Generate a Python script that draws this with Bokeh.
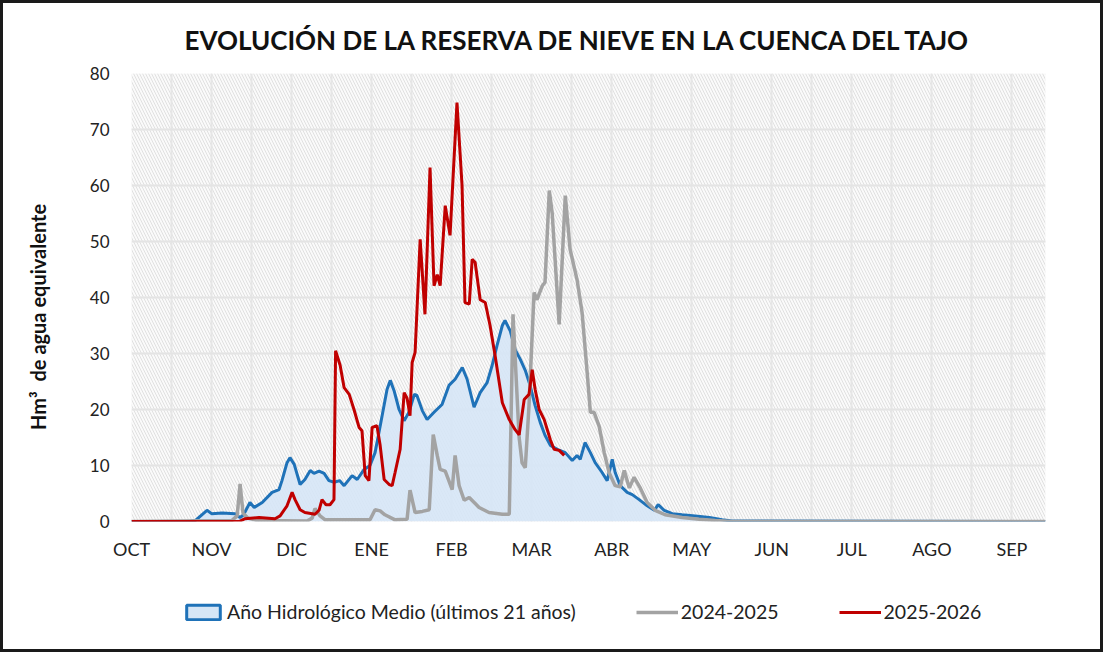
from bokeh.plotting import figure
from bokeh.layouts import column
from bokeh.models import FixedTicker, BoxAnnotation, Legend, LegendItem, ColumnDataSource
from bokeh.embed import file_html
from bokeh.resources import INLINE

# ---------------- data (x = days since 1 October) ----------------
months = ["OCT", "NOV", "DIC", "ENE", "FEB", "MAR", "ABR", "MAY", "JUN", "JUL", "AGO", "SEP"]
month_start = [0, 30, 60, 90, 120, 150, 180, 210, 240, 270, 300, 330]

medio_day = [0, 22, 24, 28.3, 30, 34, 38.8, 40.7, 42, 44.4, 46, 49, 52.7, 55.3, 56.4, 58.3, 59.4,
             61, 63.2, 65, 67, 68.4, 70.3, 72.2, 74, 76, 78, 79.7, 82.7, 84.6, 87.2, 89.4, 91.3,
             93.2, 95.8, 97, 98.4, 100.3, 102.2, 104, 106, 107, 109, 110.8, 113.4, 116.4, 119,
             121.3, 124, 125.8, 128.4, 130.7, 133.3, 135.2, 137, 139, 140, 142, 143.8, 145.7,
             147.6, 149.4, 151.3, 153.2, 155, 157, 159.6, 162.6, 165.2, 167, 168.2, 170, 172,
             173.8, 176.4, 178.3, 180.2, 181.3, 183.2, 185.8, 187.7, 190.3, 193.3, 196, 197.4,
             199.7, 202.7, 206.4, 211.3, 216.6, 221.4, 225, 342.6]
medio_val = [0, 0, 0.2, 2.0, 1.4, 1.5, 1.4, 0.7, 1.2, 3.4, 2.5, 3.4, 5.2, 5.7, 7.3, 10.5, 11.4,
             10.2, 6.6, 7.5, 9.1, 8.6, 9.0, 8.6, 7.3, 7.0, 7.3, 6.4, 8.2, 7.5, 9.3, 10, 12.3,
             17, 23.6, 25.2, 23.4, 20, 18, 19.5, 22.7, 22.5, 19.8, 18.2, 19.5, 20.9, 24.3,
             25.4, 27.5, 25.4, 20.4, 23, 24.8, 27.9, 31.4, 35, 35.9, 34, 30.7, 29,
             27, 24.3, 20.7, 17.7, 15.4, 13.6, 12.9, 12.3, 10.9, 11.8, 11.1, 14.1, 12.3,
             10.5, 8.75, 7.3, 11.1, 8.75, 6.4, 5.2, 4.8, 3.9, 2.8, 2.0, 3.0,
             2.0, 1.4, 1.2, 1.0, 0.7, 0.3, 0.1, 0]

y2425_day = [0, 37.7, 39.6, 40.7, 41.8, 43.7, 47, 65.8, 67.7, 68.8, 70.7, 72.6, 89.4, 91.3, 93.2,
             95, 98.8, 103.3, 104.4, 106.3, 109, 111.6, 113.1, 114.6, 115.7, 117.6, 120.2, 121.3,
             122.8, 124.7, 126.6, 130.3, 134, 139, 141.6, 143, 145.3, 146.4, 147.6, 149, 150.9,
             152, 154, 155, 156.6, 157.7, 160.3, 162.6, 164.4, 167, 168.9, 170.8, 172, 173.4,
             175.3, 177.2, 179, 181.3, 183.2, 184.7, 186.6, 188.4, 190.7, 193.3, 196.3, 200,
             206.4, 212.8, 218.8, 225, 342.6]
y2425_val = [0, 0.2, 1.0, 6.7, 1.5, 0.6, 0.2, 0.1, 0.6, 2.3, 1.0, 0.3, 0.3, 2.1, 1.9,
             1.2, 0.3, 0.4, 5.6, 1.6, 1.8, 2.1, 15.5, 11.8, 9.3, 9.0, 5.7, 11.8,
             6.4, 3.8, 4.3, 2.5, 1.6, 1.3, 1.3, 37, 15, 10.5, 9.6, 20.7, 40.9,
             39.6, 42.1, 42.7, 59.1, 55, 35.2, 58.2, 48.6, 43.2, 37.3, 26.6, 19.5, 19.5,
             17, 12.3, 8.75, 6.4, 6.2, 9.1, 6.0, 7.9, 6.0, 3.4, 2.0, 1.2,
             0.7, 0.4, 0.2, 0.0, 0]

y2526_day = [0, 40.3, 42.6, 47.8, 53.8, 55.7, 58.3, 60.2, 61.3, 63.2, 65, 68.8, 70.3, 71.4, 72.9,
             74.4, 75.9, 76.5, 78.2, 79.7, 81.6, 83.4, 85.3, 86.4, 87.6, 89, 90.2, 92, 93.2,
             94.7, 96.6, 97.7, 98.8, 100.7, 102.2, 103.3, 104.4, 105.2, 106.3, 108.2, 110,
             111.9, 113.4, 114.6, 115.7, 117.6, 119.4, 122, 123.9, 125, 126.6, 127.7, 128.8,
             130.7, 132.6, 134.4, 136.3, 139, 141.6, 143.8, 145.3, 147.2, 149, 150.2, 151.3,
             152.8, 154.7, 157, 158.4, 160.3, 162.2]
y2526_val = [0, 0, 0.5, 0.7, 0.5, 1.0, 2.8, 5.2, 3.9, 2.1, 1.6, 1.3, 2.0, 3.9, 3.0,
             3.0, 3.9, 30.5, 27.9, 23.9, 22.7, 20, 16.8, 16.2, 8.2, 7.3, 16.8, 17.1, 13.6,
             7.5, 6.6, 6.4, 8.75, 12.9, 23, 22, 18.9, 28.4, 30.2, 50.4, 37,
             63.2, 42.1, 44.1, 42.1, 56.4, 51.1, 74.8, 60, 39.1, 38.8, 46.8, 46.3,
             39.6, 39.1, 35, 29.6, 21.2, 18.2, 16.4, 15.5, 21.8, 22.7, 27.1, 23.6,
             20, 18.2, 14.6, 12.9, 12.7, 11.8]

labels = ["Año Hidrológico Medio (últimos 21 años)", "2024-2025", "2025-2026"]
colors = ["#1f72b8", "#a3a3a3", "#c00000"]
FILL = "#d6e6f6"
FONT = "Lato"

W = 1097
LEG_H = 70
p = figure(width=W, height=646 - LEG_H, x_range=(0, 342.6), y_range=(0, 80),
           output_backend="svg", toolbar_location=None,
           min_border_left=128, min_border_right=55, min_border_top=70, min_border_bottom=58)
p.outline_line_color = None
p.background_fill_color = "#fafafa"
p.border_fill_color = "white"

# hatched background
hatch = BoxAnnotation(fill_color=None, line_color=None, hatch_pattern="left_diagonal_line",
                      hatch_color="#e0e0e0", hatch_scale=6, hatch_weight=1, level="image")
p.add_layout(hatch)

# title
p.title.text = "EVOLUCIÓN DE LA RESERVA DE NIEVE EN LA CUENCA DEL TAJO"
p.title.align = "left"
p.title.offset = 53
p.title.standoff = 36
p.title.text_font = FONT
p.title.text_font_size = "26px"
p.title.text_font_style = "bold"
p.title.text_color = "#111111"

# axes
p.xaxis.ticker = FixedTicker(ticks=month_start, minor_ticks=[m + 15 for m in month_start])
p.xaxis.major_label_overrides = {m: lab for m, lab in zip(month_start, months)}
p.yaxis.ticker = FixedTicker(ticks=list(range(0, 81, 10)))
for ax in (p.xaxis[0], p.yaxis[0]):
    ax.axis_line_color = None
    ax.major_tick_line_color = None
    ax.minor_tick_line_color = None
    ax.major_label_text_font = FONT
    ax.major_label_text_color = "#222222"
p.xaxis.major_label_text_font_size = "18px"
p.yaxis.major_label_text_font_size = "17px"
p.xaxis.major_label_standoff = 10
p.yaxis.major_label_standoff = 16
NB = "\u00a0"
p.yaxis.axis_label = "Hm³" + NB * 2 + "de agua equivalente" + NB * 8
p.yaxis.axis_label_text_font = FONT
p.yaxis.axis_label_text_font_size = "20px"
p.yaxis.axis_label_text_font_style = "bold"
p.yaxis.axis_label_text_color = "#111111"
p.yaxis.axis_label_standoff = 37

p.xgrid.grid_line_color = "#e6e6e6"
p.xgrid.grid_line_width = 2
p.xgrid.minor_grid_line_color = "#e6e6e6"
p.xgrid.minor_grid_line_width = 2
p.ygrid.grid_line_color = "#e4e4e4"
p.ygrid.grid_line_width = 2

src_m = ColumnDataSource(dict(x=medio_day, y=medio_val))
src_a = ColumnDataSource(dict(x=y2425_day, y=y2425_val))
src_b = ColumnDataSource(dict(x=y2526_day, y=y2526_val))

p.varea(x="x", y1=0, y2="y", source=src_m, fill_color=FILL, fill_alpha=0.9)
p.line("x", "y", source=src_m, line_color=colors[0], line_width=3)
p.line("x", "y", source=src_a, line_color=colors[1], line_width=3.5)
p.line("x", "y", source=src_b, line_color=colors[2], line_width=3)

# ---------------- legend strip (keys only, drawn outside its visible range) ----------------
leg = figure(width=W, height=LEG_H, x_range=(0, 1), y_range=(0, 1),
             output_backend="svg", toolbar_location=None,
             x_axis_location=None, y_axis_location=None,
             min_border=0, outline_line_color=None)
leg.grid.visible = False
leg.border_fill_color = "white"
leg.background_fill_color = "white"
r0 = leg.quad(left=[-3], right=[-2], top=[-2], bottom=[-3], fill_color=FILL,
              line_color=colors[0], line_width=3)
r1 = leg.line(x=[-3, -2], y=[-3, -2], line_color=colors[1], line_width=3.5)
r2 = leg.line(x=[-3, -2], y=[-3, -2], line_color=colors[2], line_width=3)

legend = Legend(items=[LegendItem(label=labels[0], renderers=[r0]),
                       LegendItem(label=labels[1], renderers=[r1]),
                       LegendItem(label=labels[2], renderers=[r2])],
                orientation="horizontal", location=(51, 26))
legend.label_text_font = FONT
legend.label_text_font_size = "19.5px"
legend.label_text_color = "#222222"
legend.glyph_width = 42
legend.glyph_height = 18
legend.spacing = 60
legend.label_standoff = 3
legend.padding = 5
legend.margin = 0
legend.border_line_color = None
legend.background_fill_alpha = 0
leg.add_layout(legend)

layout = column(p, leg, spacing=0, styles={"border": "3px solid #1a1a1a"})
open("out.html", "w").write(file_html(layout, INLINE))
